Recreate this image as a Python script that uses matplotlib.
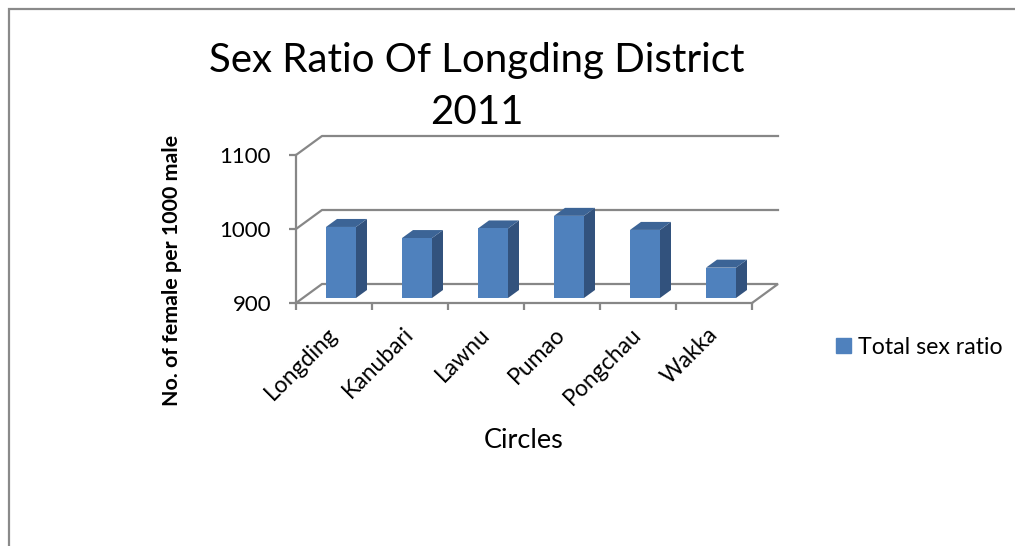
import matplotlib.pyplot as plt
from matplotlib.patches import Rectangle, Patch

circles = ['Longding', 'Kanubari', 'Lawnu', 'Pumao', 'Pongchau', 'Wakka']
sex_ratio = [996, 981, 994, 1011, 992, 941]
yticks = [900, 1000, 1100]

plt.rcParams['font.family'] = ['Lato', 'DejaVu Sans']

W, H = 1015, 546
fig = plt.figure(figsize=(W / 100, H / 100), dpi=100)

# plot area: front axis 296..752 px, 900 at y=303 px, 1100 at y=155 px
ax = fig.add_axes([296 / W, 1 - 303 / H, 456 / W, 148 / H])
ax.set_xlim(0, 6)
ax.set_ylim(900, 1100)

grey = '#878787'
front_c = '#4F81BD'
side_c = '#32527D'
top_c = '#3C6496'

# depth of the box (26 px right, 19 px up)
dx = 26 / 76
dy = 19 / 0.74
xmax = 6 + dx

# floor
ax.plot([0, dx, xmax, 6], [900, 900 + dy, 900 + dy, 900], color=grey, lw=1.6,
        clip_on=False, solid_joinstyle='miter')
# gridlines on left wall + back wall
for v in yticks[1:]:
    ax.plot([0, dx, xmax], [v, v + dy, v + dy], color=grey, lw=1.6, clip_on=False)

# bars (sitting a bit behind the front edge)
ox = 7 / 76
oy = 5 / 0.74
bw = 30 / 76
bdx = 11 / 76
bdy = 8 / 0.74
for i, v in enumerate(sex_ratio):
    x0 = i + 0.5 - bw / 2 + ox
    x1 = x0 + bw
    yb = 900 + oy
    yt = v + oy
    ax.fill([x1, x1 + bdx, x1 + bdx, x1], [yb, yb + bdy, yt + bdy, yt],
            color=side_c, clip_on=False, zorder=3, lw=0)
    ax.fill([x0, x1, x1 + bdx, x0 + bdx], [yt, yt, yt + bdy, yt + bdy],
            color=top_c, clip_on=False, zorder=3, lw=0)
    ax.fill([x0, x1, x1, x0], [yb, yb, yt, yt], color=front_c,
            clip_on=False, zorder=4, lw=0)

for s in ['top', 'right']:
    ax.spines[s].set_visible(False)
for s in ['left', 'bottom']:
    ax.spines[s].set_color(grey)
    ax.spines[s].set_linewidth(1.6)
ax.patch.set_visible(False)

ax.set_yticks(yticks)
ax.set_yticklabels([str(t) for t in yticks], fontsize=16)
ax.tick_params(axis='y', length=5, width=1.6, color=grey, pad=13)

ax.set_xticks([i + 0.5 for i in range(len(circles))])
ax.set_xticklabels(circles, rotation=45, ha='right', va='center',
                   rotation_mode='anchor', fontsize=16.5)
ax.set_xticks(range(len(circles) + 1), minor=True)
ax.tick_params(axis='x', which='major', length=0, pad=20)
ax.tick_params(axis='x', which='minor', length=5, width=1.6, color=grey)

fig.text(172 / W, 1 - 270 / H, 'No. of female per 1000 male', rotation=90,
         fontsize=15.4, fontweight='bold', ha='center', va='center')
fig.text(524 / W, 1 - 440 / H, 'Circles', fontsize=19.5, ha='center', va='center')

fig.text(477 / W, 1 - 72 / H, 'Sex Ratio Of Longding District', fontsize=29,
         ha='center', va='baseline')
fig.text(477 / W, 1 - 124 / H, '2011', fontsize=29, ha='center', va='baseline')

fig.legend(handles=[Patch(color=front_c, label='Total sex ratio')],
           loc='center left', bbox_to_anchor=(836 / W, 1 - 347 / H),
           frameon=False, fontsize=16.7, handlelength=0.65, handleheight=0.65,
           handletextpad=0.3, borderpad=0, borderaxespad=0)

fig.add_artist(Rectangle((9 / W, -0.1), 1.2, 1 - 9 / H + 0.1, transform=fig.transFigure,
                         fill=False, edgecolor='#8a8a8a', lw=1.6))

fig.savefig('out.png', dpi=100)
